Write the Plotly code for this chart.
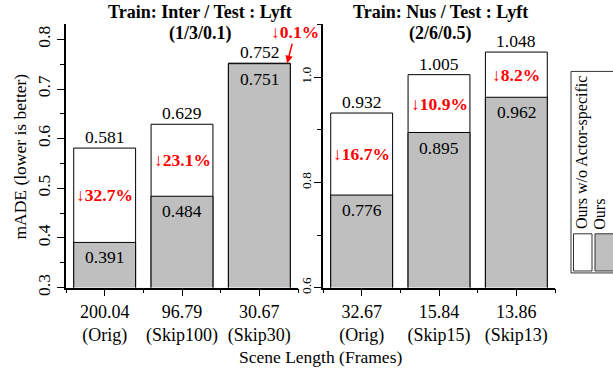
import plotly.graph_objects as go

# ---------------- data ----------------
left_lengths = ["200.04", "96.79", "30.67"]
left_names = ["(Orig)", "(Skip100)", "(Skip30)"]
left_wo = [0.581, 0.629, 0.752]
left_ours = [0.391, 0.484, 0.751]
left_pct = ["↓32.7%", "↓23.1%", "↓0.1%"]

right_lengths = ["32.67", "15.84", "13.86"]
right_names = ["(Orig)", "(Skip15)", "(Skip13)"]
right_wo = [0.932, 1.005, 1.048]
right_ours = [0.776, 0.895, 0.962]
right_pct = ["↓16.7%", "↓10.9%", "↓8.2%"]

titles = ["<b>Train: Inter / Test : Lyft</b>", "<b>Train: Nus / Test : Lyft</b>"]
subtitles = ["<b>(1/3/0.1)</b>", "<b>(2/6/0.5)</b>"]
legend_names = ["Ours w/o Actor-specific", "Ours"]

# ---------------- style ----------------
W, H = 613, 368
FONT = "Liberation Serif, Times New Roman, serif"
GRAY = "#bfbfbf"
RED = "#ff0000"
BLACK = "#000000"


def fx(px):
    return px / W


def fy(py):
    return (H - py) / H


fig = go.Figure()
xpos = [0, 1, 2]

panels = [
    (left_lengths, left_names, left_wo, left_ours, left_pct, "x", "y"),
    (right_lengths, right_names, right_wo, right_ours, right_pct, "x2", "y2"),
]

annotations = []
for lengths, names, wo, ours, pct, xa, ya in panels:
    fig.add_trace(go.Bar(x=xpos, y=wo, width=0.8, marker=dict(color="white", line=dict(color=BLACK, width=1)),
                         xaxis=xa, yaxis=ya, showlegend=False, hoverinfo="skip"))
    fig.add_trace(go.Bar(x=xpos, y=ours, width=0.8, marker=dict(color=GRAY, line=dict(color=BLACK, width=1)),
                         xaxis=xa, yaxis=ya, showlegend=False, hoverinfo="skip"))
    for i in range(3):
        annotations.append(dict(x=xpos[i], y=wo[i], xref=xa, yref=ya, text=f"{wo[i]:.3f}", showarrow=False,
                                yanchor="bottom", yshift=-1, font=dict(family=FONT, size=17.5, color=BLACK)))
        annotations.append(dict(x=xpos[i], y=ours[i], xref=xa, yref=ya, text=f"{ours[i]:.3f}", showarrow=False,
                                yanchor="top", yshift=-3, font=dict(family=FONT, size=17.5, color=BLACK)))
        if wo[i] - ours[i] > 0.02:
            annotations.append(dict(x=xpos[i], y=(wo[i] + ours[i]) / 2, xref=xa, yref=ya,
                                    text=f"<b>{pct[i]}</b>", showarrow=False, yanchor="middle",
                                    font=dict(family=FONT, size=17.5, color=RED)))
        else:
            annotations.append(dict(x=xpos[i] + 0.36, y=wo[i], xref=xa, yref=ya,
                                    text=f"<b>{pct[i]}</b>", showarrow=True, ax=8, ay=-31,
                                    arrowhead=2, arrowsize=1, arrowwidth=1.5, arrowcolor=RED,
                                    font=dict(family=FONT, size=17.5, color=RED)))

# titles
for cx, t, s in zip([200, 440], titles, subtitles):
    annotations.append(dict(x=fx(cx), y=fy(12), xref="paper", yref="paper", text=t, showarrow=False,
                            xanchor="center", yanchor="middle", font=dict(family=FONT, size=18, color=BLACK)))
    annotations.append(dict(x=fx(cx), y=fy(34), xref="paper", yref="paper", text=s, showarrow=False,
                            xanchor="center", yanchor="middle", font=dict(family=FONT, size=18, color=BLACK)))

# axis titles
annotations.append(dict(x=fx(20), y=fy(160), xref="paper", yref="paper", text="mADE (lower is better)",
                        showarrow=False, textangle=-90, xanchor="center", yanchor="middle",
                        font=dict(family=FONT, size=17.5, color=BLACK)))
annotations.append(dict(x=fx(320), y=fy(365), xref="paper", yref="paper", text="Scene Length (Frames)",
                        showarrow=False, xanchor="center", yanchor="middle",
                        font=dict(family=FONT, size=17.5, color=BLACK)))

# legend (manual, rotated text)
shapes = [
    dict(type="rect", xref="paper", yref="paper", x0=fx(571), x1=fx(616), y0=fy(279), y1=fy(73),
         line=dict(color="#333333", width=1), fillcolor="white", layer="below"),
    dict(type="rect", xref="paper", yref="paper", x0=fx(573.5), x1=fx(592), y0=fy(277), y1=fy(239),
         line=dict(color="#333333", width=1), fillcolor="white"),
    dict(type="rect", xref="paper", yref="paper", x0=fx(595), x1=fx(616), y0=fy(277), y1=fy(239),
         line=dict(color="#333333", width=1), fillcolor=GRAY),
]
leg_len = [157, 31]
for cx, name, ln in zip([582, 600], legend_names, leg_len):
    annotations.append(dict(x=fx(cx), y=fy(235 - ln / 2), xref="paper", yref="paper", text=name,
                            showarrow=False, textangle=-90, xanchor="center", yanchor="middle",
                            font=dict(family=FONT, size=16, color=BLACK)))

ydom = [fy(294), fy(25)]
xaxis_common = dict(range=[-0.5, 2.5], tickmode="array", tickvals=xpos, ticks="outside", ticklen=7,
                    tickwidth=1, tickcolor=BLACK, showline=True, linecolor=BLACK, linewidth=1.5,
                    showgrid=False, zeroline=False, tickfont=dict(family=FONT, size=18, color=BLACK),
                    minor=dict(tickmode="array", tickvals=[-0.5, 0.5, 1.5, 2.5], ticks="outside",
                               ticklen=4, tickcolor=BLACK, showgrid=False))
yaxis_common = dict(ticks="outside", ticklen=7, tickwidth=1, tickcolor=BLACK, tickangle=-90,
                    showline=True, linecolor=BLACK, linewidth=1.5, showgrid=False, zeroline=False)

fig.update_layout(
    width=W, height=H, margin=dict(l=0, r=0, t=0, b=0),
    paper_bgcolor="white", plot_bgcolor="white", barmode="overlay", showlegend=False,
    xaxis=dict(domain=[fx(66), fx(298)], anchor="y",
               ticktext=[f"{a}<br>{b}" for a, b in zip(left_lengths, left_names)], **xaxis_common),
    xaxis2=dict(domain=[fx(323), fx(555)], anchor="y2",
                ticktext=[f"{a}<br>{b}" for a, b in zip(right_lengths, right_names)], **xaxis_common),
    yaxis=dict(domain=ydom, anchor="x", range=[0.3, 0.83], tick0=0.3, dtick=0.1, tickformat=".1f",
               tickfont=dict(family=FONT, size=17.5, color=BLACK),
               minor=dict(dtick=0.05, tick0=0.3, ticks="outside", ticklen=4, tickcolor=BLACK, showgrid=False),
               **yaxis_common),
    yaxis2=dict(domain=ydom, anchor="x2", range=[0.6, 1.1005], tick0=0.6, dtick=0.2, tickformat=".1f",
                tickfont=dict(family=FONT, size=13.5, color=BLACK), ticklabelstandoff=-2,
                minor=dict(dtick=0.1, tick0=0.6, ticks="outside", ticklen=4, tickcolor=BLACK, showgrid=False),
                **yaxis_common),
    annotations=annotations, shapes=shapes,
)

fig.write_html("out.html")
